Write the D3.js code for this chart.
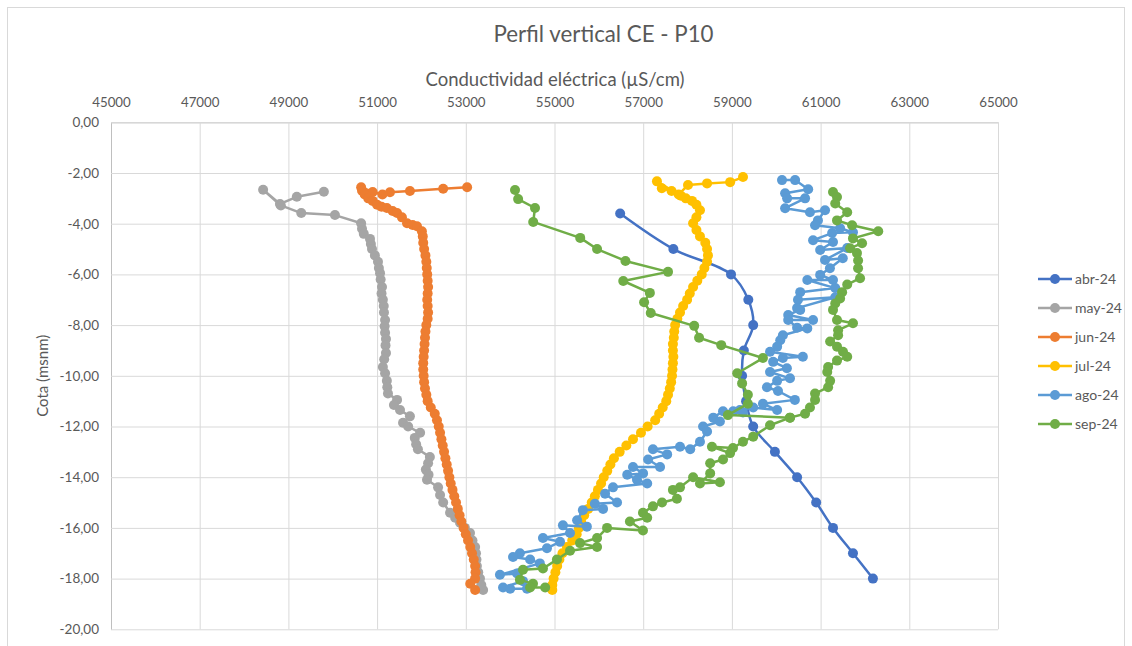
<!DOCTYPE html>
<html>
<head>
<meta charset="utf-8">
<script src="https://cdn.jsdelivr.net/npm/d3@7"></script>
<style>
  html, body { margin: 0; padding: 0; background: #ffffff; }
  svg { display: block; font-family: Lato, "Open Sans", sans-serif; }
</style>
</head>
<body>
<svg id="chart" width="1132" height="646"></svg>
<script>
// ---------------- DATA ----------------
const chartTitle = "Perfil vertical CE - P10";
const xTitle = "Conductividad eléctrica (µS/cm)";
const yTitle = "Cota (msnm)";
const xTicks = [45000, 47000, 49000, 51000, 53000, 55000, 57000, 59000, 61000, 63000, 65000];
const yTicks = [0, -2, -4, -6, -8, -10, -12, -14, -16, -18, -20];
const seriesNames = ["abr-24", "may-24", "jun-24", "jul-24", "ago-24", "sep-24"];
const seriesColors = ["#4472C4", "#A5A5A5", "#ED7D31", "#FFC000", "#5B9BD5", "#70AD47"];

// [CE (µS/cm), cota (msnm)]
const abr24 = [
  [56480,-3.6],[57680,-5.0],[58980,-6.0],[59370,-7.0],[59480,-8.0],[59270,-9.0],[59230,-10.0],
  [59320,-11.0],[59480,-12.0],[59970,-13.0],[60470,-14.0],[60900,-15.0],[61280,-16.0],[61730,-17.0],[62180,-18.0]
];

const may24 = [
  [49800,-2.74],[49190,-2.94],[48810,-3.22],[48430,-2.66],[48830,-3.28],[49290,-3.58],[50050,-3.66],[50640,-3.98],
  [50660,-4.2],[50700,-4.4],[50840,-4.6],[50860,-4.8],[50885,-5.0],[50950,-5.25],[51020,-5.5],[51040,-5.75],
  [51066,-5.95],[51080,-6.2],[51110,-6.5],[51100,-6.75],[51130,-7.0],[51150,-7.25],[51155,-7.5],[51180,-7.8],
  [51170,-8.05],[51180,-8.3],[51200,-8.55],[51190,-8.8],[51200,-9.1],[51160,-9.35],[51130,-9.65],[51180,-9.9],
  [51220,-10.2],[51230,-10.45],[51245,-10.7],[51450,-10.95],[51380,-11.15],[51517,-11.35],[51740,-11.6],[51585,-11.85],
  [51700,-12.0],[51970,-12.25],[51850,-12.45],[51880,-12.7],[51920,-12.9],[52190,-13.2],[52150,-13.45],[52100,-13.7],
  [52160,-13.9],[52125,-14.1],[52375,-14.4],[52420,-14.7],[52490,-15.0],[52645,-15.4],[52760,-15.6],[52870,-15.8],
  [52980,-16.0],[53095,-16.2],[53150,-16.5],[53210,-16.75],[53230,-17.0],[53240,-17.25],[53250,-17.5],[53280,-17.75],
  [53320,-18.0],[53350,-18.25],[53390,-18.45]
];

const jun24 = [
  [53030,-2.56],[52490,-2.62],[51740,-2.71],[51290,-2.76],[51120,-2.85],[50900,-2.75],[50640,-2.56],[50660,-2.7],
  [50720,-2.85],[50800,-3.0],[50900,-3.1],[51000,-3.25],[51100,-3.33],[51220,-3.38],[51350,-3.5],[51450,-3.58],
  [51560,-3.75],[51675,-3.98],[51800,-4.05],[51900,-4.1],[52010,-4.3],[52030,-4.5],[52040,-4.75],[52060,-5.0],
  [52090,-5.25],[52110,-5.5],[52120,-5.75],[52130,-6.0],[52140,-6.25],[52150,-6.5],[52140,-6.75],[52130,-7.0],
  [52140,-7.25],[52150,-7.5],[52140,-7.75],[52110,-8.0],[52090,-8.25],[52080,-8.5],[52070,-8.75],[52060,-9.0],
  [52050,-9.25],[52040,-9.5],[52040,-9.75],[52050,-10.0],[52060,-10.25],[52080,-10.5],[52110,-10.75],[52140,-11.0],
  [52210,-11.25],[52300,-11.5],[52350,-11.75],[52390,-12.0],[52420,-12.25],[52450,-12.5],[52480,-12.75],[52510,-13.0],
  [52540,-13.25],[52570,-13.5],[52600,-13.75],[52630,-14.0],[52660,-14.25],[52700,-14.5],[52740,-14.75],[52780,-15.0],
  [52820,-15.25],[52860,-15.5],[52900,-15.75],[52950,-16.0],[53000,-16.25],[53050,-16.5],[53100,-16.75],[53140,-17.0],
  [53180,-17.25],[53210,-17.5],[53220,-17.75],[53210,-18.0],[53100,-18.2],[53210,-18.45]
];

const jul24 = [
  [59250,-2.16],[58960,-2.36],[58440,-2.41],[58010,-2.47],[57800,-2.85],[57310,-2.33],[57420,-2.6],[57640,-2.71],
  [57850,-2.9],[57960,-3.0],[58100,-3.1],[58200,-3.25],[58280,-3.47],[58200,-3.75],[58125,-3.98],[58200,-4.25],
  [58280,-4.5],[58400,-4.75],[58440,-5.0],[58460,-5.25],[58440,-5.5],[58380,-5.75],[58320,-6.0],[58220,-6.25],
  [58125,-6.5],[58050,-6.75],[57990,-7.0],[57900,-7.25],[57830,-7.5],[57770,-7.75],[57720,-8.0],[57700,-8.25],
  [57690,-8.5],[57670,-8.75],[57670,-9.0],[57680,-9.25],[57670,-9.5],[57660,-9.75],[57650,-10.0],[57630,-10.25],
  [57600,-10.5],[57560,-10.75],[57520,-11.0],[57440,-11.25],[57360,-11.5],[57270,-11.75],[57100,-12.0],[56950,-12.25],
  [56770,-12.5],[56620,-12.75],[56470,-13.0],[56340,-13.25],[56260,-13.5],[56190,-13.75],[56110,-14.0],[56050,-14.25],
  [55980,-14.5],[55910,-14.75],[55840,-15.0],[55760,-15.25],[55670,-15.5],[55600,-15.75],[55550,-16.0],[55500,-16.25],
  [55400,-16.5],[55280,-16.75],[55180,-17.0],[55110,-17.25],[55060,-17.5],[55020,-17.75],[54980,-18.0],[54950,-18.25],
  [54950,-18.45]
];

const ago24 = [
  [60130,-2.28],[60425,-2.28],[60720,-2.64],[60200,-2.8],[60245,-3.0],[60650,-3.0],[60200,-3.39],[60760,-3.55],
  [61100,-3.47],[60940,-3.87],[60875,-4.06],[61440,-4.18],[61730,-4.34],[61260,-4.37],[60830,-4.65],[61280,-4.72],
  [60990,-5.04],[61600,-4.96],[61100,-5.43],[61500,-5.36],[61210,-5.76],[60990,-6.02],[61280,-6.22],[60700,-6.22],
  [61330,-6.54],[60540,-6.7],[60490,-7.0],[61330,-6.9],[60470,-7.33],[60540,-7.4],[60270,-7.6],[60830,-7.8],
  [60270,-7.8],[60470,-8.1],[60700,-8.13],[60150,-8.4],[60090,-8.6],[60020,-8.85],[59860,-9.05],[60600,-9.25],
  [60150,-9.3],[59930,-9.45],[60240,-9.7],[59860,-9.85],[60310,-10.1],[60020,-10.2],[59790,-10.45],[60040,-10.6],
  [60420,-10.95],[59700,-11.1],[60020,-11.35],[59480,-11.25],[59180,-11.35],[59030,-11.4],[59250,-11.45],[58800,-11.4],
  [58580,-11.65],[58730,-11.8],[58350,-12.0],[58440,-12.2],[58280,-12.6],[58060,-12.9],[57830,-12.8],[57220,-12.9],
  [57540,-13.1],[57110,-13.3],[57380,-13.6],[56770,-13.6],[56997,-13.85],[56640,-13.9],[56860,-14.1],[57090,-14.25],
  [56320,-14.4],[56140,-14.65],[56410,-15.0],[55910,-15.05],[56095,-15.25],[55640,-15.3],[55510,-15.7],[55730,-15.95],
  [55190,-15.9],[55350,-16.2],[54740,-16.4],[55125,-16.55],[54830,-16.8],[54220,-17.0],[54065,-17.15],[54450,-17.25],
  [54670,-17.4],[53770,-17.85],[54155,-17.8],[54290,-18.1],[53840,-18.35],[54000,-18.4],[54380,-18.4]
];

// sep-24 was logged in two stretches that meet near -11.6 m
const sep24a = [
  [54110,-2.67],[54180,-3.03],[54560,-3.38],[54520,-3.93],[55580,-4.56],[55960,-5.0],[56600,-5.47],[57560,-5.9],
  [56550,-6.26],[57150,-6.73],[57020,-7.1],[57170,-7.52],[58150,-8.03],[58260,-8.5],[58760,-8.79],[59700,-9.3],
  [59120,-9.9],[59230,-10.3],[59360,-10.75],[59360,-11.1],[58910,-11.55],[60310,-11.65]
];
const sep24b = [
  [61280,-2.75],[61370,-2.95],[61330,-3.2],[61600,-3.55],[61370,-3.87],[61710,-4.06],[62300,-4.3],[61730,-4.58],
  [61935,-4.77],[61665,-4.97],[61820,-5.16],[61845,-5.45],[61845,-5.76],[61890,-6.15],[61600,-6.4],[61485,-6.7],
  [61440,-6.95],[61330,-7.15],[61280,-7.4],[61370,-7.8],[61730,-7.93],[61395,-8.2],[61395,-8.4],[61215,-8.65],
  [61370,-8.85],[61505,-9.05],[61600,-9.25],[61370,-9.4],[61170,-9.65],[61150,-9.85],[61215,-10.2],[61170,-10.45],
  [60875,-10.7],[60875,-10.95],[60760,-11.25],[60650,-11.5],[60310,-11.65],[59860,-11.95],[59480,-12.4],[59250,-12.6],
  [59025,-12.85],[58550,-12.8],[58960,-13.05],[58800,-13.3],[58510,-13.45],[58510,-13.85],[58280,-14.25],[58730,-14.2],
  [58125,-14.0],[57830,-14.4],[57670,-14.5],[57760,-14.85],[57425,-15.0],[57220,-15.15],[56995,-15.4],[57090,-15.6],
  [56700,-15.75],[56995,-16.1],[56185,-16.0],[55960,-16.4],[55575,-16.6],[55960,-16.75],[55350,-16.9],[55055,-17.25],
  [54740,-17.6],[54290,-17.65],[54220,-18.05],[54515,-18.2],[54450,-18.35],[54790,-18.35]
];

const series = [
  { name: seriesNames[0], color: seriesColors[0], parts: [abr24], smooth: true },
  { name: seriesNames[1], color: seriesColors[1], parts: [may24] },
  { name: seriesNames[2], color: seriesColors[2], parts: [jun24] },
  { name: seriesNames[3], color: seriesColors[3], parts: [jul24] },
  { name: seriesNames[4], color: seriesColors[4], parts: [ago24] },
  { name: seriesNames[5], color: seriesColors[5], parts: [sep24a, sep24b] }
];

// ---------------- LAYOUT ----------------
const svg = d3.select("#chart");
const plot = { left: 111, right: 998, top: 122.3, bottom: 629.3 };
const plotW = plot.right - plot.left, plotH = plot.bottom - plot.top;
const textColor = "#595959";

svg.append("rect").attr("x", 7.5).attr("y", 7.5).attr("width", 1117).attr("height", 660)
  .attr("fill", "#fff").attr("stroke", "#D9D9D9").attr("stroke-width", 1);

const x = d3.scaleLinear().domain([45000, 65000]).range([plot.left, plot.right]);
const y = d3.scaleLinear().domain([0, -20]).range([plot.top, plot.bottom]);

// Y axis with gridlines
const gy = svg.append("g").attr("transform", `translate(${plot.left},0)`)
  .call(d3.axisLeft(y).tickValues(yTicks).tickSizeInner(-plotW).tickSizeOuter(0).tickPadding(12)
    .tickFormat(d => d.toFixed(2).replace(".", ",")));
gy.selectAll(".tick line").attr("stroke", "#D9D9D9").attr("stroke-width", 1);
gy.select(".domain").attr("stroke", "#BFBFBF");
gy.selectAll(".tick text").attr("fill", textColor).style("font-size", "13.5px").style("font-family", "Lato");

// X axis (top) with gridlines
const gx = svg.append("g").attr("transform", `translate(0,${plot.top})`)
  .call(d3.axisTop(x).tickValues(xTicks).tickSizeInner(-plotH).tickSizeOuter(0).tickPadding(15)
    .tickFormat(d3.format("d")));
gx.selectAll(".tick line").attr("stroke", "#D9D9D9").attr("stroke-width", 1);
gx.select(".domain").attr("stroke", "#BFBFBF");
gx.selectAll(".tick text").attr("fill", textColor).style("font-size", "13.3px").style("font-family", "Lato");
gy.raise();
gy.selectAll(".tick line").lower();

// Titles
svg.append("text").attr("x", 603.5).attr("y", 42).attr("text-anchor", "middle")
  .attr("fill", textColor).style("font-size", "22.3px").style("font-family", "Lato").text(chartTitle);
svg.append("text").attr("x", 555).attr("y", 86).attr("text-anchor", "middle")
  .attr("fill", textColor).style("font-size", "18.5px").style("font-family", "Lato").text(xTitle);
svg.append("text").attr("transform", `translate(48,${(plot.top + plot.bottom) / 2}) rotate(-90)`)
  .attr("text-anchor", "middle").attr("fill", textColor).style("font-size", "15px").style("font-family", "Lato").text(yTitle);

// Series
const straight = d3.line().x(d => x(d[0])).y(d => y(d[1]));
const smooth = d3.line().x(d => x(d[0])).y(d => y(d[1])).curve(d3.curveCatmullRom.alpha(0.5));
const R = 5;

series.forEach(s => {
  const g = svg.append("g");
  s.parts.forEach(p => {
    g.append("path").attr("d", (s.smooth ? smooth : straight)(p))
      .attr("fill", "none").attr("stroke", s.color).attr("stroke-width", 2.5).attr("stroke-linejoin", "round");
  });
  s.parts.forEach(p => {
    g.selectAll(null).data(p).enter().append("circle")
      .attr("cx", d => x(d[0])).attr("cy", d => y(d[1])).attr("r", R).attr("fill", s.color);
  });
});

// Legend
const legend = svg.append("g");
const legY = d3.scalePoint().domain(seriesNames).range([279, 424]);
series.forEach(s => {
  const yy = legY(s.name);
  legend.append("line").attr("x1", 1038).attr("x2", 1072).attr("y1", yy).attr("y2", yy)
    .attr("stroke", s.color).attr("stroke-width", 2.5);
  legend.append("circle").attr("cx", 1055).attr("cy", yy).attr("r", R).attr("fill", s.color);
  legend.append("text").attr("x", 1075).attr("y", yy).attr("dy", "0.35em")
    .attr("fill", textColor).style("font-size", "14px").style("font-family", "Lato").text(s.name);
});
</script>
</body>
</html>
